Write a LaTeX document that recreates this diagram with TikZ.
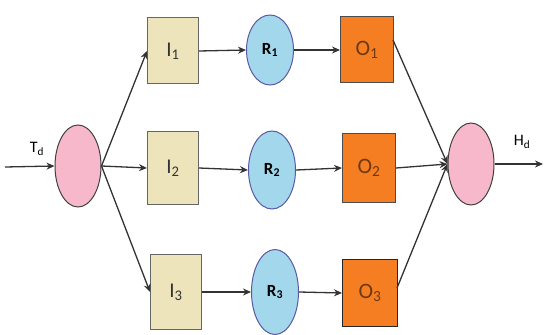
\documentclass[tikz,border=0pt]{standalone}
\usepackage{fontspec}
\setmainfont{Carlito}
\usetikzlibrary{shapes.geometric,arrows.meta}
\definecolor{inbox}{HTML}{EEE4BC}
\definecolor{rball}{HTML}{A3D8EC}
\definecolor{obox}{HTML}{F57E22}
\definecolor{hub}{HTML}{F7B8CC}
\tikzset{
  ibox/.style={draw=gray!80!black, fill=inbox, line width=1pt, minimum width=51pt, minimum height=66pt, inner sep=0pt, text=black!80, font=\fontsize{21}{21}\selectfont},
  rnode/.style={ellipse, draw=gray!70!blue, fill=rball, line width=1pt, minimum width=47pt, minimum height=78pt, inner sep=0pt, font=\fontsize{17}{17}\selectfont\bfseries},
  onode/.style={draw=gray!60!black, fill=obox, line width=1pt, minimum width=53pt, minimum height=66pt, inner sep=0pt, text=black!55!obox, font=\fontsize{22}{22}\selectfont},
  hubnode/.style={ellipse, draw=gray!50!black, fill=hub, line width=1pt, minimum width=46pt, minimum height=82pt, inner sep=0pt},
  flow/.style={-{Stealth[length=8pt,width=7pt]}, line width=1.3pt, draw=black!80},
  tag/.style={font=\fontsize{16}{16}\selectfont}
}
\begin{document}
\begin{tikzpicture}[x=1pt,y=-1pt]
\useasboundingbox (0,0) rectangle (545,334);
% hubs
\node[hubnode] (split) at (78,166) {};
\node[hubnode] (merge) at (471,164) {};
% row 1
\node[ibox] (i1) at (173,51) {I\textsubscript{1}};
\node[rnode, minimum height=70pt] (r1) at (270,50) {R\textsubscript{1}};
\node[onode] (o1) at (367,50) {O\textsubscript{1}};
% row 2
\node[ibox, minimum height=73pt] (i2) at (173,168) {I\textsubscript{2}};
\node[rnode] (r2) at (272,170) {R\textsubscript{2}};
\node[onode, minimum height=69pt] (o2) at (369,168) {O\textsubscript{2}};
% row 3
\node[ibox, minimum height=75pt] (i3) at (176,292) {I\textsubscript{3}};
\node[rnode, minimum height=85pt] (r3) at (275,292) {R\textsubscript{3}};
\node[onode, draw=black!85, minimum width=55pt, minimum height=67pt] (o3) at (370,293) {O\textsubscript{3}};
% free ends and exit points
\coordinate (in) at (5,167);
\coordinate (out) at (543,164);
\coordinate (o1out) at (393,40);
\coordinate (o3out) at (397,288);
% connectors
\draw[flow] (in) -- (split.west);
\draw[flow] (split.east) -- (i1.west);
\draw[flow] (split.east) -- (i2.west);
\draw[flow] (split.east) -- (i3.west);
\foreach \k in {1,2,3} {
  \draw[flow] (i\k.east) -- (r\k.west);
  \draw[flow] (r\k.east) -- (o\k.west);
}
\draw[flow] (o1out) -- (merge.west);
\draw[flow] (o2.east) -- (merge.west);
\draw[flow] (o3out) -- (merge.west);
\draw[flow] (merge.east) -- (out);
% labels
\node[tag] (td) at (37,149) {T\textsubscript{d}};
\node[tag] (hd) at (522,142) {H\textsubscript{d}};
\end{tikzpicture}
\end{document}
